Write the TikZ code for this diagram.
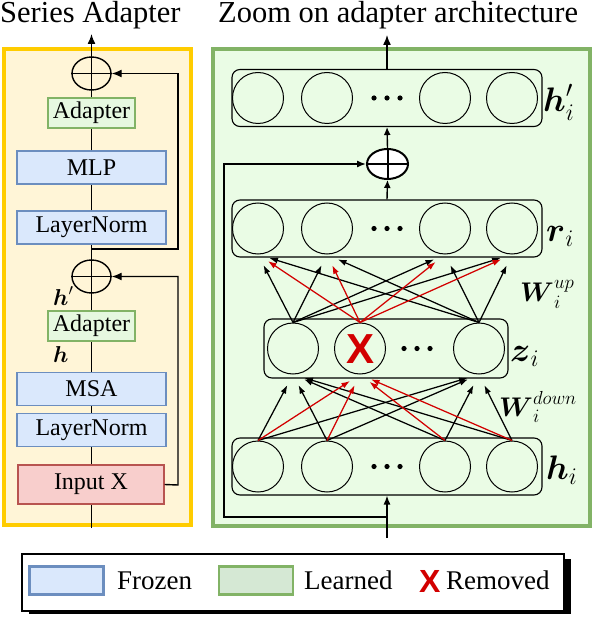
\RequirePackage{fix-cm}
\documentclass[tikz,border=0pt]{standalone}
\usepackage{amsmath}
\usepackage{fontspec}
\setmainfont{Liberation Serif}
\setsansfont{Liberation Sans}
\usetikzlibrary{arrows.meta,shapes.geometric}

\definecolor{ybord}{RGB}{255,204,0}
\definecolor{yfill}{RGB}{255,245,215}
\definecolor{gbord}{RGB}{130,179,102}
\definecolor{gfill}{RGB}{234,252,229}
\definecolor{bfill}{RGB}{218,232,252}
\definecolor{bbord}{RGB}{108,142,191}
\definecolor{afill}{RGB}{230,248,224}
\definecolor{lfill}{RGB}{213,232,212}
\definecolor{rfill}{RGB}{248,206,204}
\definecolor{rbord}{RGB}{184,84,80}
\definecolor{xred}{RGB}{210,0,0}

\newcommand{\fsz}[1]{\fontsize{#1}{#1}\selectfont}

\tikzset{
  frozenbox/.style={draw=bbord, fill=bfill, line width=1.2pt, minimum width=149pt, minimum height=33pt, inner sep=0pt, font=\fsz{24}},
  adapterbox/.style={draw=gbord, fill=afill, line width=1.2pt, minimum width=87pt, minimum height=30pt, inner sep=0pt, font=\fsz{24}},
  inputbox/.style={draw=rbord, fill=rfill, line width=1.2pt, minimum width=146pt, minimum height=39pt, inner sep=0pt, font=\fsz{24}},
  plusL/.style={ellipse, draw, line width=1.4pt, minimum width=39pt, minimum height=33pt, inner sep=0pt},
  plusR/.style={ellipse, draw, fill=white, line width=2pt, minimum width=41pt, minimum height=30pt, inner sep=0pt},
  neuron/.style={circle, draw, line width=1pt, minimum size=51pt, inner sep=0pt},
  group/.style={draw, rounded corners=8pt, line width=1.1pt, inner sep=0pt, minimum height=57pt},
  flow/.style={line width=1.4pt},
  tipL/.style={-{Latex[length=10pt,width=8pt]}},
  wire/.style={line width=1.25pt, -{Latex[length=8.5pt,width=6pt]}, shorten >=12pt},
  redwire/.style={wire, draw=xred},
  lbl/.style={anchor=base west, inner sep=0pt},
  swatch/.style={line width=2.6pt, minimum width=74pt, minimum height=28pt, inner sep=0pt},
}

\begin{document}
\begin{tikzpicture}[x=1pt, y=-1pt]
\useasboundingbox (0,0) rectangle (594,617);

% titles
\node[lbl, font=\fsz{30.5}] (t1) at (0,23) {Series Adapter};
\node[lbl, font=\fsz{30.5}] (t2) at (218,23) {Zoom on adapter architecture};

% panels
\draw[draw=ybord, fill=yfill, line width=3.5pt] (4,49) rectangle (191,525);
\draw[draw=gbord, fill=gfill, line width=3.5pt] (213,49) rectangle (590,526);

% ---------- left panel ----------
\node[plusL] (plusT) at (91.5,73.5) {};
\node[adapterbox] (adT) at (91.5,113) {Adapter};
\node[frozenbox] (mlp) at (91.5,167.5) {MLP};
\node[frozenbox] (ln1) at (91.5,227.5) {LayerNorm};
\node[plusL] (plusB) at (91.5,276.5) {};
\node[adapterbox] (adB) at (91.5,326) {Adapter};
\node[frozenbox] (msa) at (91.5,389) {MSA};
\node[frozenbox] (ln2) at (91.5,430) {LayerNorm};
\node[inputbox] (inp) at (91,484.5) {Input X};

\coordinate (botL) at (91.5,528);
\coordinate (topL) at (91.5,34);
\coordinate (sk1) at (91.5,249);
\coordinate (rc1) at (178,249);
\coordinate (rc2) at (178,485);

\draw[flow] (botL) -- (inp.south -| botL);
\draw[flow] (inp.north -| botL) -- (ln2.south);
\draw[flow] (ln2) -- (msa);
\draw[flow] (msa) -- (adB);
\draw[flow] (adB) -- (plusB);
\draw[flow] (plusB) -- (ln1);
\draw[flow] (ln1) -- (mlp);
\draw[flow] (mlp) -- (adT);
\draw[flow] (adT) -- (plusT);
\draw[flow, tipL] (plusT.north) -- (topL);
\draw[flow] (plusT.north) -- (plusT.south);
\draw[flow] (plusT.west) -- (plusT.east);
\draw[flow] (plusB.north) -- (plusB.south);
\draw[flow] (plusB.west) -- (plusB.east);
\draw[flow, tipL] (sk1) -- (rc1) |- (plusT.east);
\draw[flow, tipL] (inp.east) -- (rc2) |- (plusB.east);

\node[lbl, font=\fsz{23}] (hpL) at (53,305) {$\boldsymbol{h}'$};
\node[lbl, font=\fsz{23}] (hL) at (53,362) {$\boldsymbol{h}$};

% ---------- right panel ----------
\node[group, minimum width=310pt] (hpG) at (387,98) {};
\node[group, minimum width=310pt] (rG) at (387,228.5) {};
\node[group, minimum width=244pt, minimum height=59pt] (zG) at (386,348.5) {};
\node[group, minimum width=310pt] (hG) at (387,466.5) {};

\foreach \n/\x in {1/258,2/327,3/445,4/512}{
  \node[neuron] (hp\n) at (\x,98) {};
  \node[neuron] (r\n) at (\x,228.5) {};
  \node[neuron] (h\n) at (\x,466.5) {};
}
\node[neuron] (z1) at (293,348.5) {};
\node[neuron] (z2) at (360,348.5) {};
\node[neuron] (z3) at (479,348.5) {};
\node[font=\sffamily\bfseries\fsz{42}, text=xred, inner sep=0pt] (zx) at (360,349) {X};

\foreach \y in {98,228.5,466.5}{
  \foreach \dx in {-13,0,13}{ \fill (387+\dx,\y) circle (2.6pt); }
}
\foreach \dx in {-13,0,13}{ \fill (417+\dx,348.5) circle (2.6pt); }

% plus and flow
\node[plusR] (plusR) at (387.5,164) {};
\draw[line width=2pt] (plusR.north) -- (plusR.south);
\draw[line width=2pt] (plusR.west) -- (plusR.east);
\coordinate (topR) at (387,35);
\coordinate (inR) at (387,538);
\coordinate (sR) at (387,517);
\coordinate (cR) at (224,517);
\draw[flow, tipL] (hpG.north) -- (topR);
\draw[flow, -{Latex[length=8pt,width=7pt]}] (plusR.north) -- (hpG.south);
\draw[flow, -{Latex[length=8pt,width=7pt]}] (rG.north) -- (plusR.south);
\draw[flow, -{Latex[length=9pt,width=7pt]}] (inR) -- (hG.south);
\draw[flow, -{Latex[length=9pt,width=7pt]}] (sR) -- (cR) |- (plusR.west);

% connections z -> r
\foreach \j in {1,3}{
  \foreach \k in {1,2,3,4}{ \draw[wire] (z\j.north) -- (r\k.south); }
}
\foreach \k in {1,2,3,4}{ \draw[redwire] (z2.north) -- (r\k.south); }
% connections h -> z
\foreach \k in {1,2,3,4}{
  \draw[wire] (h\k.north) -- (z1.south);
  \draw[wire] (h\k.north) -- (z3.south);
}
\foreach \k in {1,2,3,4}{ \draw[redwire] (h\k.north) -- (z2.south); }

% labels
\node[lbl, font=\fsz{34}] (lhp) at (543,112) {$\boldsymbol{h}'_i$};
\node[lbl, font=\fsz{34}] (lr) at (546,241) {$\boldsymbol{r}_i$};
\node[lbl, font=\fsz{34}] (lz) at (510,361) {$\boldsymbol{z}_i$};
\node[lbl, font=\fsz{34}] (lh) at (546,479) {$\boldsymbol{h}_i$};
\node[lbl, font=\fsz{27}] (lwu) at (520,301) {$\boldsymbol{W}_i^{up}$};
\node[lbl, font=\fsz{27}] (lwd) at (499,416) {$\boldsymbol{W}_i^{down}$};

% ---------- legend ----------
\fill (29,559) rectangle (571,614);
\draw[fill=white, line width=1.3pt] (22,554) rectangle (564,611);
\node[swatch, draw=bbord, fill=bfill] (sfz) at (66.5,580.5) {};
\node[swatch, draw=gbord, fill=lfill] (sln) at (256,580.5) {};
\node[lbl, font=\fsz{27}] (tfz) at (117,589) {Frozen};
\node[lbl, font=\fsz{27}] (tln) at (304,589) {Learned};
\node[lbl, font=\sffamily\bfseries\fsz{32}, text=xred] (tx) at (419,592) {X};
\node[lbl, font=\fsz{27}] (trm) at (446,589) {Removed};
\end{tikzpicture}
\end{document}
